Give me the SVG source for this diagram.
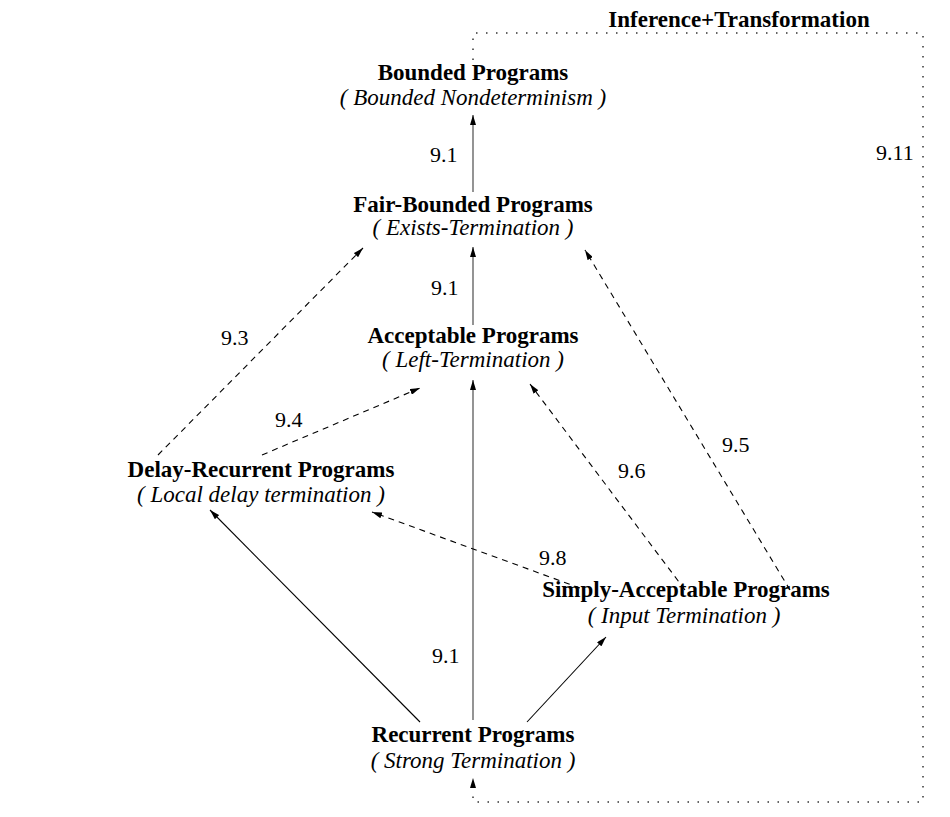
<svg xmlns="http://www.w3.org/2000/svg" width="950" height="817" viewBox="0 0 950 817">
<defs>
<style>
.b{font-family:"Liberation Serif","Times New Roman",serif;font-weight:bold;font-size:23px;text-anchor:middle;fill:#000}
.i{font-family:"Liberation Serif","Times New Roman",serif;font-style:italic;font-size:23px;text-anchor:middle;fill:#000}
.l{font-family:"Liberation Serif","Times New Roman",serif;font-size:22px;fill:#000}
.v{stroke:#666;stroke-width:1.4;fill:none}
.s{stroke:#000;stroke-width:1.1;fill:none}
.d{stroke:#000;stroke-width:1.1;fill:none;stroke-dasharray:6 5}
.dot{stroke:#333;stroke-width:1.5;fill:none;stroke-dasharray:1.5 8.5}
</style>
<marker id="ah" viewBox="0 0 10 6" refX="10" refY="3" markerWidth="10" markerHeight="6" markerUnits="userSpaceOnUse" orient="auto"><path d="M0,0 L10,3 L0,6 z" fill="#000"/></marker>
</defs>
<rect width="950" height="817" fill="#fff"/>
<g id="connectors">
<line class="v" x1="473" y1="192" x2="473" y2="115" marker-end="url(#ah)"/>
<line class="v" x1="473" y1="325" x2="473" y2="247" marker-end="url(#ah)"/>
<line class="v" x1="473" y1="720" x2="473" y2="380" marker-end="url(#ah)"/>
<line class="d" x1="158" y1="455" x2="363" y2="248" marker-end="url(#ah)"/>
<line class="d" x1="262" y1="455" x2="420" y2="388" marker-end="url(#ah)"/>
<line class="d" x1="580" y1="588" x2="372" y2="512" marker-end="url(#ah)"/>
<line class="d" x1="685" y1="590" x2="530" y2="384" marker-end="url(#ah)"/>
<line class="d" x1="790" y1="590" x2="585" y2="250" marker-end="url(#ah)"/>
<line class="s" x1="420" y1="722" x2="210" y2="510" marker-end="url(#ah)"/>
<line class="s" x1="527" y1="722" x2="606" y2="637" marker-end="url(#ah)"/>
<path class="dot" d="M473,60 V33 H923 V802 H473 V778" marker-end="url(#ah)"/>
<text class="l" x="430" y="162">9.1</text>
<text class="l" x="431" y="295">9.1</text>
<text class="l" x="432" y="663">9.1</text>
<text class="l" x="221" y="345">9.3</text>
<text class="l" x="275" y="427">9.4</text>
<text class="l" x="722" y="452">9.5</text>
<text class="l" x="618" y="478">9.6</text>
<text class="l" x="539" y="565">9.8</text>
<text class="l" x="876" y="160">9.11</text>
<text class="b" x="739" y="27">Inference+Transformation</text>
</g>
<g id="bounded"><text class="b" x="473" y="80">Bounded Programs</text><text class="i" x="473" y="105">( Bounded Nondeterminism )</text></g>
<g id="fairbounded"><text class="b" x="473" y="212">Fair-Bounded Programs</text><text class="i" x="473" y="235">( Exists-Termination )</text></g>
<g id="acceptable"><text class="b" x="473" y="343">Acceptable Programs</text><text class="i" x="473" y="367">( Left-Termination )</text></g>
<g id="delayrecurrent"><text class="b" x="261" y="477">Delay-Recurrent Programs</text><text class="i" x="261" y="502">( Local delay termination )</text></g>
<g id="simplyacceptable"><text class="b" x="686" y="597">Simply-Acceptable Programs</text><text class="i" x="684" y="623">( Input Termination )</text></g>
<g id="recurrent"><text class="b" x="473" y="742">Recurrent Programs</text><text class="i" x="473" y="768">( Strong Termination )</text></g>
</svg>
